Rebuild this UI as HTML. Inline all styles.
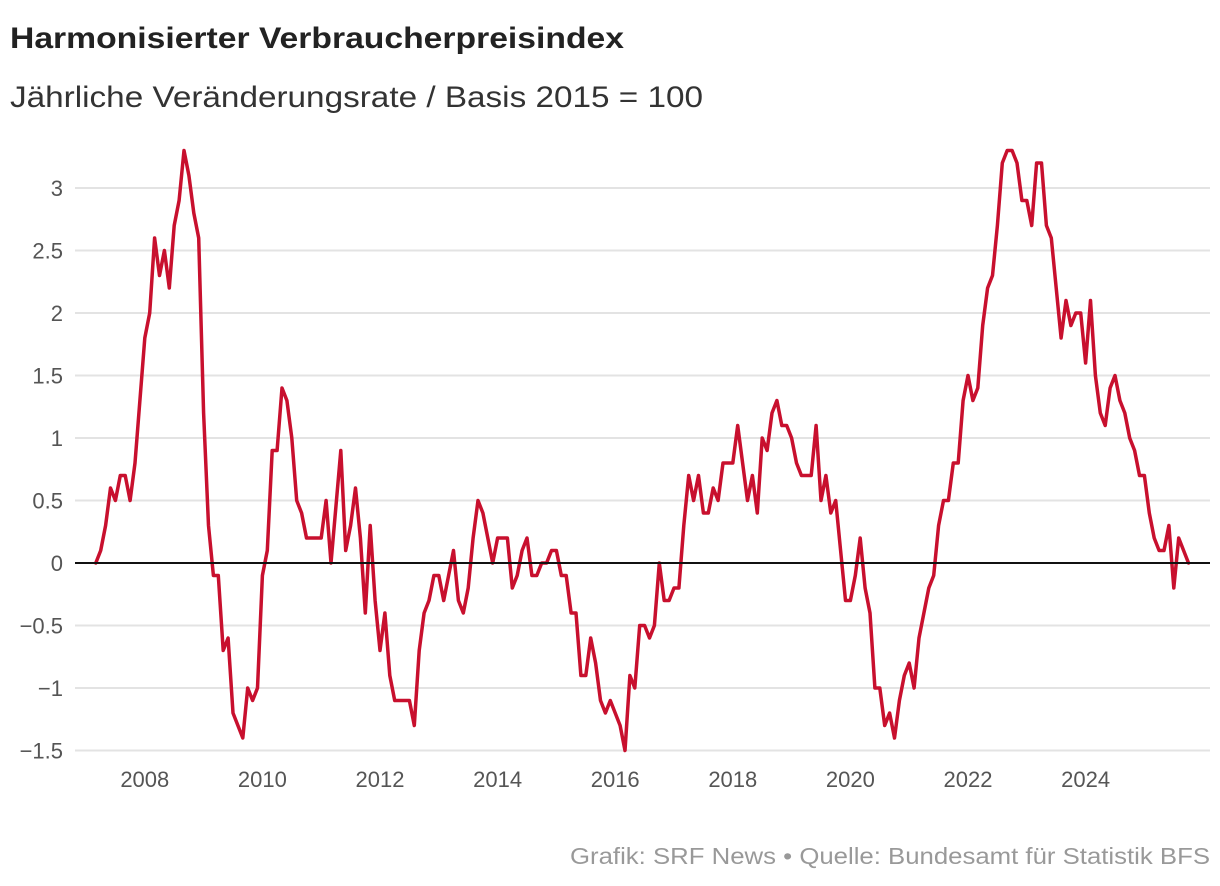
<!DOCTYPE html>
<html><head><meta charset="utf-8"><style>
html,body{margin:0;padding:0;background:#fff;}
svg{display:block;font-family:"Liberation Sans",sans-serif;}
</style></head><body>
<svg id="chart" width="1220" height="886" viewBox="0 0 1220 886" xmlns="http://www.w3.org/2000/svg">
<text x="10" y="48" font-size="30" font-weight="bold" fill="#222" textLength="614" lengthAdjust="spacingAndGlyphs">Harmonisierter Verbraucherpreisindex</text>
<text x="10" y="107" font-size="30" fill="#333" textLength="693" lengthAdjust="spacingAndGlyphs">Jährliche Veränderungsrate / Basis 2015 = 100</text>
<g id="grid"></g>
<g id="yticks"></g>
<g id="xticks"></g>
<g id="series"></g>
<text x="1210" y="864" font-size="23" fill="#999" text-anchor="end" textLength="640" lengthAdjust="spacingAndGlyphs">Grafik: SRF News • Quelle: Bundesamt für Statistik BFS</text>
</svg>
<script>
const yTicks = [-1.5,-1,-0.5,0,0.5,1,1.5,2,2.5,3];
const yTickLabels = ["−1.5","−1","−0.5","0","0.5","1","1.5","2","2.5","3"];
const xTickYears = [2008,2010,2012,2014,2016,2018,2020,2022,2024];
const startYear = 2007;
const startMonth = 3;
const values = [
0,0.1,0.3,0.6,0.5,0.7,0.7,0.5,0.8,1.3,
1.8,2.0,2.6,2.3,2.5,2.2,2.7,2.9,3.3,3.1,2.8,2.6,
1.2,0.3,-0.1,-0.1,-0.7,-0.6,-1.2,-1.3,-1.4,-1.0,-1.1,-1.0,-0.1,0.1,
0.9,0.9,1.4,1.3,1.0,0.5,0.4,0.2,0.2,0.2,0.2,0.5,
0.0,0.45,0.9,0.1,0.3,0.6,0.2,-0.4,0.3,-0.3,-0.7,-0.4,
-0.9,-1.1,-1.1,-1.1,-1.1,-1.3,-0.7,-0.4,-0.3,-0.1,-0.1,-0.3,
-0.1,0.1,-0.3,-0.4,-0.2,0.2,0.5,0.4,0.2,0.0,0.2,0.2,
0.2,-0.2,-0.1,0.1,0.2,-0.1,-0.1,0.0,0.0,0.1,0.1,-0.1,
-0.1,-0.4,-0.4,-0.9,-0.9,-0.6,-0.8,-1.1,-1.2,-1.1,-1.2,-1.3,
-1.5,-0.9,-1.0,-0.5,-0.5,-0.6,-0.5,0.0,-0.3,-0.3,-0.2,-0.2,
0.3,0.7,0.5,0.7,0.4,0.4,0.6,0.5,0.8,0.8,0.8,1.1,
0.8,0.5,0.7,0.4,1.0,0.9,1.2,1.3,1.1,1.1,1.0,0.8,
0.7,0.7,0.7,1.1,
0.5,0.7,0.4,0.5,0.1,-0.3,-0.3,-0.1,0.2,-0.2,
-0.4,-1.0,-1.0,-1.3,-1.2,-1.4,-1.1,-0.9,-0.8,-1.0,
-0.6,-0.4,-0.2,-0.1,0.3,0.5,0.5,0.8,0.8,1.3,
1.5,1.3,1.4,1.9,2.2,2.3,2.7,3.2,3.3,3.3,
3.2,2.9,2.9,2.7,3.2,3.2,2.7,2.6,2.2,1.8,
2.1,1.9,2.0,2.0,1.6,2.1,1.5,1.2,1.1,1.4,
1.5,1.3,1.2,1.0,0.9,0.7,0.7,0.4,0.2,0.1,
0.1,0.3,-0.2,0.2,0.1,0.0
];
const NS = "http://www.w3.org/2000/svg";
function y(v){ return 563 - v*125; }
function xMonths(m){ return 86 + m*4.9; } // months since Jan 2007
function xIndex(i){ return xMonths((startYear-2007)*12 + (startMonth-1) + i); }
function mk(tag, attrs, parent){ const e=document.createElementNS(NS,tag); for(const k in attrs) e.setAttribute(k,attrs[k]); parent.appendChild(e); return e; }
const grid=document.getElementById('grid'), yt=document.getElementById('yticks'), xt=document.getElementById('xticks'), ser=document.getElementById('series');
yTicks.forEach((t,i)=>{
  if(t!==0){
    const l=mk('line',{x1:75,x2:1210,y1:y(t),y2:y(t),stroke:'#e3e3e3','stroke-width':2},grid);
    
    
  }
  const tx=mk('text',{x:63,y:y(t)+8,'font-size':22,fill:'#555','text-anchor':'end'},yt);
  tx.textContent=yTickLabels[i];
  
  
});
xTickYears.forEach(yr=>{
  const tx=mk('text',{x:xMonths((yr-2007)*12),y:787,'font-size':22,fill:'#555','text-anchor':'middle'},xt);
  tx.textContent=String(yr);
  
  
});
const pts=values.map((v,i)=>xIndex(i).toFixed(1)+','+y(v).toFixed(1)).join(' ');
const line=mk('polyline',{points:pts,fill:'none',stroke:'#c8102e','stroke-width':3.5,'stroke-linejoin':'round','stroke-linecap':'round'},ser);


const zero=mk('line',{x1:75,x2:1210,y1:y(0),y2:y(0),stroke:'#111','stroke-width':2},ser);


</script>
</body></html>
